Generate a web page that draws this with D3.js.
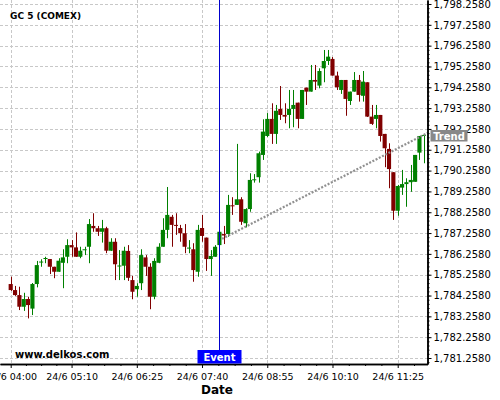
<!DOCTYPE html>
<html><head><meta charset="utf-8">
<script src="https://cdn.jsdelivr.net/npm/d3@7"></script>
<style>body{margin:0;background:#fff;} svg{display:block;font-family:"DejaVu Sans",sans-serif;}</style>
</head><body>
<svg id="c" width="500" height="400"></svg>
<script>
const chartDate = "24/06/2021";
const title = "GC 5 (COMEX)";
const watermark = "www.delkos.com";
const axisTitle = "Date";
const times = ["04:00","04:05","04:10","04:15","04:20","04:25","04:30","04:35","04:40","04:45","04:50","04:55",
"05:00","05:05","05:10","05:15","05:20","05:25","05:30","05:35","05:40","05:45","05:50","05:55",
"06:00","06:05","06:10","06:15","06:20","06:25","06:30","06:35","06:40","06:45","06:50","06:55",
"07:00","07:05","07:10","07:15","07:20","07:25","07:30","07:35","07:40","07:45","07:50","07:55",
"08:00","08:05","08:10","08:15","08:20","08:25","08:30","08:35","08:40","08:45","08:50","08:55",
"09:00","09:05","09:10","09:15","09:20","09:25","09:30","09:35","09:40","09:45","09:50","09:55",
"10:00","10:05","10:10","10:15","10:20","10:25","10:30","10:35","10:40","10:45","10:50","10:55",
"11:00","11:05","11:10","11:15","11:20","11:25","11:30","11:35","11:40","11:45","11:50","11:55"];
const open = [1784.81,1784.52,1784.28,1783.72,1784.09,1783.63,1784.81,1785.87,1786.05,1786.01,1785.64,1785.40,
1785.83,1786.12,1786.68,1786.57,1786.12,1786.47,1786.60,1787.60,1787.49,1787.32,1787.49,1786.41,
1786.84,1785.69,1785.69,1786.40,1785.00,1784.56,1784.85,1786.09,1785.64,1784.20,1785.83,1786.60,
1787.41,1788.04,1787.65,1787.50,1787.25,1786.54,1786.48,1785.40,1787.50,1787.04,1786.01,1786.12,
1786.68,1787.21,1787.21,1788.59,1788.61,1788.88,1787.73,1788.41,1789.83,1789.94,1791.01,1791.92,
1792.74,1792.02,1793.22,1792.93,1792.93,1793.22,1793.52,1792.74,1794.24,1794.05,1794.61,1794.34,
1795.17,1795.52,1795.62,1794.82,1794.13,1794.61,1793.60,1794.05,1794.61,1793.85,1794.50,1792.85,
1792.74,1792.93,1792.02,1791.30,1790.18,1788.33,1789.44,1789.61,1789.70,1789.72,1791.12,1791.94];
const high = [1785.16,1784.72,1784.68,1784.39,1784.20,1784.86,1785.92,1786.00,1786.12,1786.01,1785.64,1786.05,
1786.48,1786.96,1786.92,1787.29,1786.60,1786.60,1787.93,1788.21,1787.60,1787.89,1787.56,1787.01,
1787.01,1786.44,1786.60,1786.68,1785.20,1784.85,1786.48,1786.20,1785.81,1786.05,1786.77,1787.97,
1789.47,1788.13,1788.21,1787.65,1787.69,1786.92,1786.77,1787.65,1788.13,1787.04,1786.44,1786.68,
1787.32,1787.60,1789.09,1788.98,1791.54,1788.98,1788.45,1790.13,1790.09,1791.17,1792.72,1793.02,
1793.49,1793.41,1794.32,1793.49,1794.13,1794.13,1793.52,1794.13,1794.24,1795.33,1795.33,1795.17,
1796.05,1796.05,1795.71,1795.01,1794.61,1794.61,1794.05,1794.99,1794.85,1795.04,1794.50,1793.41,
1793.41,1792.93,1792.02,1791.57,1790.18,1789.57,1790.29,1789.89,1790.53,1791.01,1791.92,1791.97];
const low = [1784.48,1784.24,1783.56,1783.52,1783.16,1783.32,1784.65,1785.64,1785.81,1785.29,1785.09,1785.40,
1784.61,1785.81,1786.12,1786.12,1786.05,1786.20,1785.81,1787.32,1787.12,1786.80,1786.29,1786.40,
1785.00,1785.00,1785.00,1784.96,1784.08,1784.20,1784.52,1785.20,1783.60,1784.08,1785.81,1786.60,
1787.01,1786.60,1787.17,1786.84,1786.29,1786.29,1784.92,1785.16,1786.84,1785.44,1785.20,1786.12,
1786.68,1786.73,1787.08,1788.13,1788.61,1787.65,1787.53,1788.28,1789.68,1789.68,1790.77,1791.87,
1791.54,1791.54,1792.69,1792.53,1792.29,1792.34,1792.29,1792.74,1793.41,1794.05,1794.13,1794.21,
1794.50,1795.33,1794.82,1794.13,1793.94,1792.89,1793.41,1794.05,1793.57,1793.57,1792.83,1792.45,
1792.29,1791.65,1790.42,1789.41,1787.89,1788.09,1789.09,1788.52,1789.24,1789.72,1790.77,1790.61];
const close = [1784.52,1784.28,1783.72,1784.09,1783.80,1784.81,1785.72,1785.89,1786.06,1785.64,1785.40,1785.93,
1786.09,1786.68,1786.57,1786.12,1786.41,1786.48,1787.69,1787.49,1787.32,1787.49,1786.41,1786.84,
1785.76,1785.70,1786.41,1785.11,1784.44,1784.72,1786.20,1785.64,1784.20,1785.92,1786.60,1787.41,
1788.13,1787.65,1787.62,1787.25,1786.60,1786.56,1785.48,1787.41,1787.12,1786.01,1786.16,1786.60,
1787.32,1787.14,1788.61,1788.56,1788.88,1787.80,1788.41,1789.81,1789.84,1791.09,1792.13,1792.74,
1792.02,1793.13,1792.93,1792.85,1793.22,1793.41,1792.74,1794.13,1794.05,1794.61,1794.53,1795.04,
1795.52,1795.73,1794.82,1794.26,1794.61,1793.70,1794.05,1794.61,1793.89,1794.53,1792.85,1792.50,
1792.93,1791.92,1791.33,1790.33,1788.33,1789.52,1789.61,1789.70,1789.81,1791.01,1791.92,1791.97];
const xTickTimes = ["04:00","05:10","06:25","07:40","08:55","10:10","11:25"];
const xTickLabels = ["24/6 04:00","24/6 05:10","24/6 06:25","24/6 07:40","24/6 08:55","24/6 10:10","24/6 11:25"];
const yTickValues = [1781.258,1782.258,1783.258,1784.258,1785.258,1786.258,1787.258,1788.258,1789.258,
1790.258,1791.258,1792.258,1793.258,1794.258,1795.258,1796.258,1797.258,1798.258];
const yDomain = [1780.97, 1798.45];
const xDomainTimes = ["03:47:42","11:59:15"];
const eventTime = "08:00";
const eventLabel = "Event";
const trendTimes = ["08:03","11:59"];
const trendValues = [1786.98, 1792.06];
const trendLabel = "Trend";

const parseT = s => d3.timeParse("%d/%m/%Y %H:%M:%S")(chartDate + " " + (s.length === 5 ? s + ":00" : s));
const plotL = 0, plotR = 427.5, plotT = 0, plotB = 364;
const svg = d3.select("#c");

const x = d3.scaleTime().domain(xDomainTimes.map(parseT)).range([plotL, plotR]);
const y = d3.scaleLinear().domain(yDomain).range([plotB, plotT]);

const data = times.map((t, i) => ({t: parseT(t), o: open[i], h: high[i], l: low[i], c: close[i]}));
const step = x(data[1].t) - x(data[0].t);

// grid
const grid = svg.append("g").attr("stroke", "#c8c8c8").attr("stroke-dasharray", "3,2").attr("stroke-width", 1);
yTickValues.forEach(v => {
  const yy = Math.round(y(v)) + 0.5;
  grid.append("line").attr("x1", plotL).attr("x2", plotR).attr("y1", yy).attr("y2", yy);
});
xTickTimes.forEach(t => {
  const xx = Math.round(x(parseT(t))) + 0.5;
  grid.append("line").attr("x1", xx).attr("x2", xx).attr("y1", plotT).attr("y2", plotB);
});

// candles
const green = "#008000", red = "#800000";
const cg = svg.append("g");
data.forEach(d => {
  const col = d.c >= d.o ? green : red;
  const cx = Math.round(x(d.t)) + 0.5;
  cg.append("line").attr("x1", cx).attr("x2", cx).attr("y1", y(d.h)).attr("y2", y(d.l))
    .attr("stroke", col).attr("stroke-width", 1);
  const top = y(Math.max(d.o, d.c)), bot = y(Math.min(d.o, d.c));
  const bw = step * 0.95;
  cg.append("rect").attr("x", x(d.t) - bw / 2).attr("width", bw)
    .attr("y", top).attr("height", Math.max(1, bot - top)).attr("fill", col);
});

// trend line
svg.append("line")
  .attr("x1", x(parseT(trendTimes[0]))).attr("y1", y(trendValues[0]))
  .attr("x2", x(parseT(trendTimes[1]))).attr("y2", y(trendValues[1]))
  .attr("stroke", "#909090").attr("stroke-width", 2.2).attr("stroke-dasharray", "2,1.6");

// event line
const ex = Math.round(x(parseT(eventTime))) + 0.5;
svg.append("line").attr("x1", ex).attr("x2", ex).attr("y1", plotT).attr("y2", 350)
  .attr("stroke", "#0000cc").attr("stroke-width", 1);

// axes
const yAxis = d3.axisRight(y).tickValues(yTickValues).tickFormat(d3.format(",.4f")).tickSize(4).tickPadding(2).tickSizeOuter(0);
const yMinor = d3.range(1781.058, 1798.45, 0.2);
const ga = svg.append("g").attr("transform", `translate(${plotR},0)`);
ga.append("g").call(d3.axisRight(y).tickValues(yMinor).tickSize(2).tickFormat("").tickSizeOuter(0));
ga.append("g").call(yAxis);
ga.selectAll("text").attr("font-size", 10).attr("font-family", "DejaVu Sans").attr("fill", "#000");

const majorDates = xTickTimes.map(parseT);
const xMinor = [];
for (let i = 0; i < majorDates.length; i++) {
  const a = +majorDates[i];
  const b = i < majorDates.length - 1 ? +majorDates[i + 1] : a + 75 * 60000;
  for (let k = 1; k < 4; k++) xMinor.push(new Date(a + (b - a) * k / 4));
}
const gx = svg.append("g").attr("transform", `translate(0,${plotB})`);
gx.append("g").call(d3.axisBottom(x).tickValues(xMinor.filter(d => x(d) <= plotR)).tickSize(2).tickFormat("").tickSizeOuter(0));
gx.append("g").call(d3.axisBottom(x).tickValues(majorDates).tickSize(4).tickPadding(5).tickSizeOuter(0)
  .tickFormat((d, i) => xTickLabels[i]));
gx.selectAll("text").attr("font-size", 9.5).attr("font-family", "DejaVu Sans").attr("fill", "#000");
svg.selectAll(".domain").attr("stroke", "#000").attr("stroke-width", 1.5);

// axis title
svg.append("text").attr("x", 217).attr("y", 394).attr("text-anchor", "middle")
  .attr("font-size", 12).attr("font-weight", "bold").text(axisTitle);

// title & watermark
svg.append("text").attr("x", 10).attr("y", 19).attr("font-size", 9).attr("font-weight", "bold").text(title);
svg.append("text").attr("x", 15).attr("y", 357.5).attr("font-size", 10).attr("font-weight", "bold").text(watermark);

// event label
const evG = svg.append("g");
evG.append("rect").attr("x", ex - 22).attr("y", 350).attr("width", 44).attr("height", 13.5).attr("fill", "#0000ff");
evG.append("text").attr("x", ex).attr("y", 360.5).attr("text-anchor", "middle").attr("fill", "#fff")
  .attr("font-size", 10).attr("font-weight", "bold").text(eventLabel);

// trend label
const trG = svg.append("g");
trG.append("rect").attr("x", 430.5).attr("y", 130).attr("width", 37).attr("height", 11.5).attr("fill", "#888888");
trG.append("text").attr("x", 449).attr("y", 139.5).attr("text-anchor", "middle").attr("fill", "#fff")
  .attr("font-size", 10).attr("font-weight", "bold").text(trendLabel);
</script>
</body></html>
